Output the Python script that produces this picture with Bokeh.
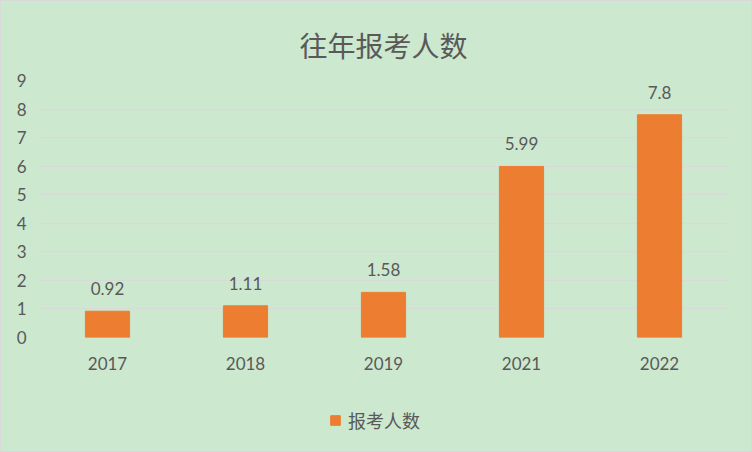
from bokeh.plotting import figure
from bokeh.layouts import column
from bokeh.models import ColumnDataSource, Legend, LegendItem, LabelSet, FixedTicker, Range1d, FactorRange
from bokeh.core.properties import value
from bokeh.embed import file_html
from bokeh.resources import INLINE

years = ["2017", "2018", "2019", "2021", "2022"]
values = [0.92, 1.11, 1.58, 5.99, 7.8]
labels = ["0.92", "1.11", "1.58", "5.99", "7.8"]
series_name = "报考人数"
title_text = "往年报考人数"

bg = "#cce8cf"
txt = "#595959"
bar_color = "#ed7d31"

src = ColumnDataSource(dict(x=years, top=values, lab=labels))

p = figure(x_range=years, y_range=Range1d(0, 9), width=750, height=400,
           output_backend="svg", toolbar_location=None,
           min_border_left=37, min_border_right=23, min_border_top=79, min_border_bottom=64)
p.background_fill_alpha = 0
p.border_fill_alpha = 0
p.outline_line_color = None

p.title.text = title_text
p.title.align = "center"
p.title.offset = -7
p.title.vertical_align = "middle"
p.title.text_font = "Noto Sans CJK SC"
p.title.text_font_size = "28px"
p.title.text_font_style = "normal"
p.title.text_color = txt
p.title.standoff = 30

r = p.vbar(x="x", top="top", width=0.32, source=src, color=bar_color)

ls = LabelSet(x="x", y="top", text="lab", source=src, text_align="center",
              text_baseline="bottom", y_offset=16, text_font=value("Lato"),
              text_font_size=value("17px"), text_color=txt)
p.add_layout(ls)

p.yaxis.ticker = FixedTicker(ticks=list(range(0, 10)))
p.yaxis.axis_line_color = None
p.yaxis.major_tick_line_color = None
p.yaxis.minor_tick_line_color = None
p.yaxis.major_label_text_font = "Lato"
p.yaxis.major_label_text_font_size = "17px"
p.yaxis.major_label_text_color = txt
p.yaxis.major_label_standoff = 6

p.xaxis.axis_line_color = None
p.xaxis.major_tick_line_color = None
p.xaxis.minor_tick_line_color = None
p.xaxis.major_label_text_font = "Lato"
p.xaxis.major_label_text_font_size = "17px"
p.xaxis.major_label_text_color = txt
p.xaxis.major_label_standoff = 13

p.xgrid.grid_line_color = None
p.ygrid.grid_line_color = "#d9d9d9"
p.ygrid.grid_line_width = 1.5

# legend strip (same series, drawn outside its visible range so only the legend shows)
p2 = figure(width=750, height=50, x_range=FactorRange(*years), y_range=Range1d(100, 101),
            output_backend="svg", toolbar_location=None,
            min_border_left=0, min_border_right=0, min_border_top=0, min_border_bottom=0)
p2.axis.visible = False
p2.grid.grid_line_color = None
p2.background_fill_alpha = 0
p2.border_fill_alpha = 0
p2.outline_line_color = None
r2 = p2.vbar(x="x", top="top", width=0.32, source=src, color=bar_color)

legend = Legend(items=[LegendItem(label=series_name, renderers=[r2])],
                orientation="horizontal", location=(291, 18),
                background_fill_alpha=0, border_line_color=None,
                label_text_font="Noto Sans CJK SC", label_text_font_size="18px",
                label_text_color=txt, glyph_width=12, glyph_height=12,
                label_standoff=7, padding=0, margin=0)
p2.add_layout(legend, "center")

layout = column(p, p2, spacing=0,
                styles={"border": "1px solid #d9d9d9", "background-color": bg})

open("out.html", "w").write(file_html(layout, INLINE))
